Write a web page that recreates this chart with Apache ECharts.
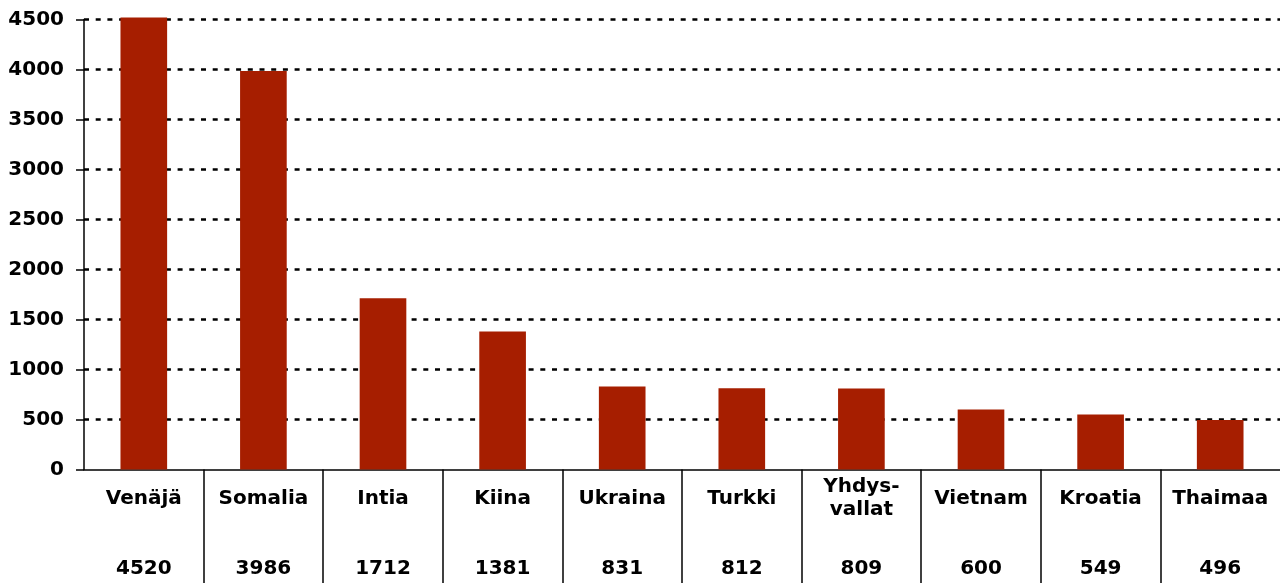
<!DOCTYPE html>
<html>
<head>
<meta charset="utf-8">
<script src="https://cdn.jsdelivr.net/npm/echarts@6/dist/echarts.min.js"></script>
<style>
    html, body { margin: 0; padding: 0; background: #fff; }
    #main { width: 1280px; height: 583px; }
</style>
</head>
<body>
<div id="main"></div>
<script>
// 数据
var maat = ['Venäjä', 'Somalia', 'Intia', 'Kiina', 'Ukraina', 'Turkki', 'Yhdys-\nvallat', 'Vietnam', 'Kroatia', 'Thaimaa']
var maara = [4520, 3986, 1712, 1381, 831, 812, 809, 600, 549, 496]
var yTicks = [0, 500, 1000, 1500, 2000, 2500, 3000, 3500, 4000, 4500]

var font = 'DejaVu Sans'

var myChart = echarts.init(document.getElementById('main'))

var option = {
    animation: false,
    backgroundColor: '#fff',
    grid: [
        { left: 84, right: 0, top: 19.5, bottom: 113.5, outerBoundsMode: 'none' },
        { left: 84, right: 0, top: 469.5, height: 114, outerBoundsMode: 'none' }
    ],
    xAxis: [
        {
            type: 'category',
            gridIndex: 0,
            data: maat,
            axisLine: { lineStyle: { color: '#000', width: 1.5 } },
            axisTick: { show: false },
            axisLabel: {
                interval: 0,
                color: '#000',
                fontFamily: font,
                fontWeight: 'bold',
                fontSize: 20,
                lineHeight: 23,
                verticalAlign: 'middle',
                margin: 29
            }
        },
        {
            // 数据表：数值和分隔线
            type: 'category',
            gridIndex: 1,
            position: 'top',
            data: maara.map(String),
            axisLine: { show: false },
            axisTick: { show: false },
            splitLine: {
                show: true,
                showMinLine: false,
                showMaxLine: false,
                lineStyle: { color: '#000', width: 1.5 }
            },
            axisLabel: {
                inside: true,
                interval: 0,
                color: '#000',
                fontFamily: font,
                fontWeight: 'bold',
                fontSize: 20,
                verticalAlign: 'middle',
                margin: 99
            }
        }
    ],
    yAxis: [
        {
            type: 'value',
            gridIndex: 0,
            min: yTicks[0],
            max: yTicks[yTicks.length - 1],
            interval: 500,
            axisLine: { show: true, lineStyle: { color: '#000', width: 1.5 } },
            axisTick: { show: true, length: 8, lineStyle: { color: '#000', width: 1.5 } },
            axisLabel: {
                color: '#000',
                fontFamily: font,
                fontWeight: 'bold',
                fontSize: 20,
                margin: 20,
                formatter: function (v) { return String(v) }
            },
            splitLine: {
                showMinLine: false,
                lineStyle: { color: '#000', width: 2.5, type: [5, 6.7] }
            }
        },
        {
            type: 'value',
            gridIndex: 1,
            min: 0,
            max: 1,
            show: false
        }
    ],
    series: [{
        type: 'bar',
        xAxisIndex: 0,
        yAxisIndex: 0,
        data: maara,
        clip: false,
        barCategoryGap: '61%',
        itemStyle: { color: '#A61E00' }
    }]
}

myChart.setOption(option)
</script>
</body>
</html>
